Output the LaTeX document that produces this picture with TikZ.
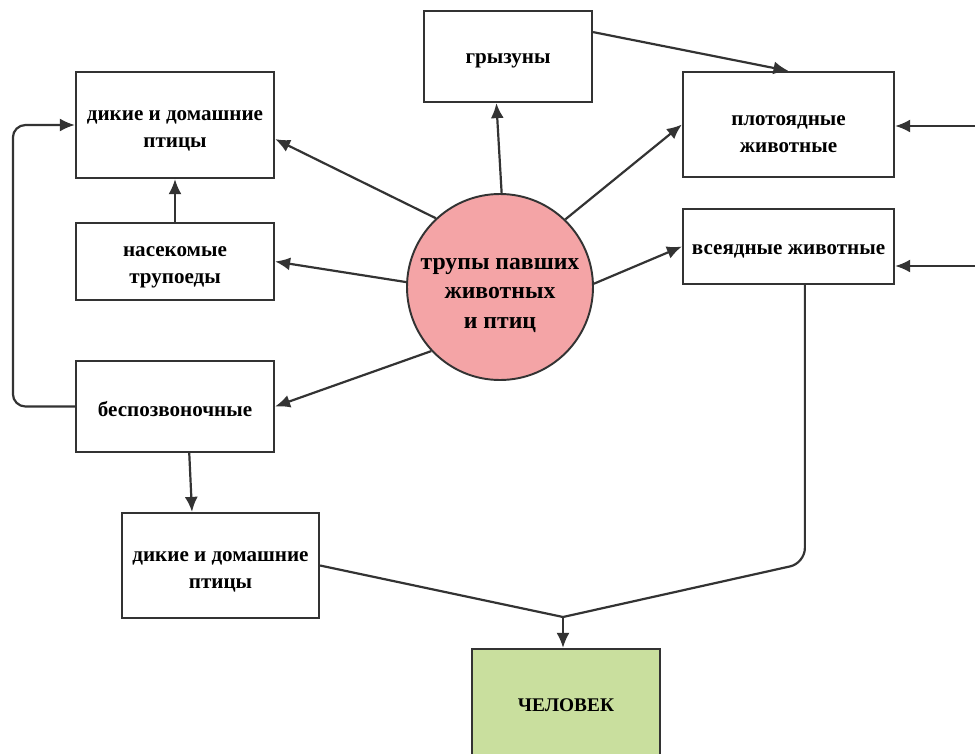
\documentclass[tikz,border=0pt]{standalone}
\usepackage{fontspec}
\setmainfont{Liberation Serif}
\usetikzlibrary{arrows.meta}
\newcommand\pxl{0.02cm}
\newcommand\tdn[1]{\rule{0pt}{#1}}
\definecolor{linec}{HTML}{333333}
\definecolor{pinkc}{HTML}{F4A4A6}
\definecolor{greenc}{HTML}{C9DF9E}
\begin{document}
\begin{tikzpicture}[x=0.02cm,y=-0.02cm,
  box/.style={draw=linec, line width=1.25pt, fill=white, align=center,
    font=\bfseries\fontsize{12}{15.5}\selectfont, inner sep=2pt},
  arr/.style={draw=linec, line width=1.25pt, -{Latex[length=3mm,width=2.6mm]}},
  ln/.style={draw=linec, line width=1.25pt}]
\clip (0,0) rectangle (975,754);
\fill[white] (0,0) rectangle (975,754);
% nodes
\node[box, minimum width=198*\pxl, minimum height=106*\pxl] (b1) at (175,125) {\tdn{12.5pt}дикие и домашние\\птицы};
\node[box, minimum width=198*\pxl, minimum height=77*\pxl] (b2) at (175,261.5) {\tdn{12.5pt}насекомые\\трупоеды};
\node[box, minimum width=198*\pxl, minimum height=91*\pxl] (b3) at (175,406.5) {\tdn{11pt}беспозвоночные};
\node[box, minimum width=197*\pxl, minimum height=105*\pxl] (b4) at (220.5,565.5) {\tdn{13pt}дикие и домашние\\птицы};
\node[box, minimum width=168*\pxl, minimum height=91*\pxl] (gr) at (508,56.5) {\tdn{11pt}грызуны};
\node[box, minimum width=211*\pxl, minimum height=105*\pxl] (pl) at (788.5,124.5) {\tdn{16.5pt}плотоядные\\животные};
\node[box, minimum width=211*\pxl, minimum height=75*\pxl] (vs) at (788.5,246.5) {\tdn{11pt}всеядные животные};
\node[box, fill=greenc, minimum width=188*\pxl, minimum height=112*\pxl, font=\bfseries\fontsize{11}{13}\selectfont] (hu) at (566,705) {ЧЕЛОВЕК};
\node[circle, draw=linec, line width=1.1pt, fill=pinkc, minimum size=186*\pxl, inner sep=0pt, align=center,
  font=\bfseries\fontsize{13.5}{17}\selectfont] (c) at (500,287) {\tdn{16pt}трупы павших\\животных\\и птиц};
\coordinate (j) at (563,617);
\coordinate (r1) at (975,126);
\coordinate (r2) at (975,266);
% connectors from circle
\draw[arr] (c.133) -- (b1.-8);
\draw[arr] (c.177.5) -- (b2.east);
\draw[arr] (c.223) -- (b3.east);
\draw[arr] (c.89.4) -- (gr.-104);
\draw[arr] (c.46) -- (pl.west);
\draw[arr] (c.2.5) -- (vs.west);
% other connectors
\draw[arr] (gr.16) -- (pl.north);
\draw[arr] (b2.north) -- (b1.south);
\draw[arr, rounded corners=0.25cm] (b3.west) -- ++(-62,0) |- (b1.west);
\draw[arr] (b3.-73) -- (b4.118.5);
\draw[ln] (b4.east) -- (j);
\draw[ln, rounded corners=0.3cm] (vs.-67.5) -- ++(0,278) -- (j);
\draw[arr] (j) -- (j |- hu.north);
\draw[arr] (r1) -- (r1 -| pl.east);
\draw[arr] (r2) -- (r2 -| vs.east);
\end{tikzpicture}
\end{document}
